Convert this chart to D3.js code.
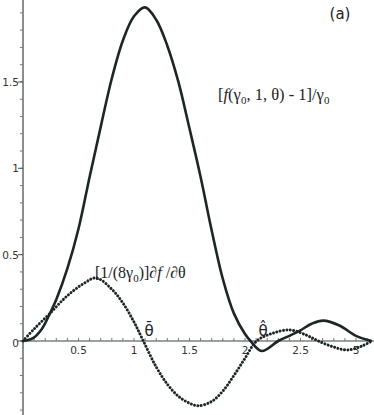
<!DOCTYPE html>
<html><head><meta charset="utf-8">
<script src="https://cdn.jsdelivr.net/npm/d3@7"></script>
<style>body{margin:0;background:#fff}svg{display:block}</style>
</head><body>
<svg id="c" width="374" height="415"></svg>
<script>
// data
const thetaSolid = [0, 0.09, 0.17, 0.243, 0.3, 0.4, 0.5, 0.6, 0.7, 0.8, 0.9, 1.0, 1.1, 1.2, 1.3, 1.4, 1.5, 1.6, 1.7, 1.8, 1.9, 2.0, 2.05, 2.15, 2.3, 2.4, 2.495, 2.6, 2.705, 2.85, 3.0, 3.1416];
const valSolid   = [0, 0.017, 0.07, 0.16, 0.24, 0.42, 0.65, 0.95, 1.24, 1.52, 1.74, 1.88, 1.932, 1.86, 1.71, 1.5, 1.23, 0.95, 0.64, 0.36, 0.16, 0.04, 0, -0.058, 0, 0.03, 0.06, 0.1, 0.118, 0.09, 0.03, 0];
const thetaDot = [0, 0.1, 0.243, 0.39, 0.54, 0.66, 0.8, 0.9, 1.0, 1.084, 1.2, 1.3, 1.4, 1.5, 1.58, 1.7, 1.8, 1.9, 2.0, 2.105, 2.25, 2.405, 2.55, 2.66, 2.8, 2.92, 3.05, 3.1416];
const valDot   = [0, 0.07, 0.16, 0.257, 0.33, 0.365, 0.3, 0.22, 0.11, 0, -0.15, -0.25, -0.32, -0.36, -0.375, -0.35, -0.29, -0.2, -0.1, 0, 0.045, 0.064, 0.035, 0, -0.035, -0.052, -0.03, 0];
const xTickVals = [0.5, 1, 1.5, 2, 2.5, 3];
const xTickLabels = ["0.5", "1", "1.5", "2", "2.5", "3"];
const yTickVals = [0, 0.5, 1, 1.5];
const yTickLabels = ["0", "0.5", "1", "1.5"];

const svg = d3.select("#c");
const x = d3.scaleLinear().domain([0, 1]).range([23, 134]);
const y = d3.scaleLinear().domain([0, 1]).range([341, 168.3]);
const axisColor = "#3a4444";

// y axis
svg.append("line").attr("x1", x(0)).attr("x2", x(0)).attr("y1", 0).attr("y2", 415)
  .attr("stroke", axisColor).attr("stroke-width", 1.2);
const yMinor = d3.range(-4, 20).map(i => i / 10);
svg.selectAll(".ym").data(yMinor).join("line")
  .attr("x1", x(0) - 3).attr("x2", x(0)).attr("y1", d => y(d)).attr("y2", d => y(d))
  .attr("stroke", "#777").attr("stroke-width", 1);
svg.selectAll(".yM").data(yTickVals).join("line")
  .attr("x1", x(0) - 5).attr("x2", x(0)).attr("y1", d => y(d)).attr("y2", d => y(d))
  .attr("stroke", "#555").attr("stroke-width", 1);
svg.selectAll(".yl").data(yTickVals).join("text")
  .attr("x", x(0) - 4).attr("y", (d, i) => y(d) + (i === 0 ? 6 : 4))
  .attr("text-anchor", "end").attr("font-family", "DejaVu Sans").attr("font-size", 10.5)
  .attr("fill", "#333").text((d, i) => yTickLabels[i]);

// x axis
svg.append("line").attr("x1", x(0)).attr("x2", 374).attr("y1", y(0)).attr("y2", y(0))
  .attr("stroke", axisColor).attr("stroke-width", 1.2);
const xMinor = d3.range(1, 32).map(i => i / 10);
svg.selectAll(".xm").data(xMinor).join("line")
  .attr("x1", d => x(d)).attr("x2", d => x(d)).attr("y1", y(0) - 3).attr("y2", y(0))
  .attr("stroke", "#777").attr("stroke-width", 1);
svg.selectAll(".xl").data(xTickVals).join("text")
  .attr("x", d => x(d)).attr("y", y(0) + 13)
  .attr("text-anchor", "middle").attr("font-family", "DejaVu Sans").attr("font-size", 10.5)
  .attr("fill", "#333").text((d, i) => xTickLabels[i]);

// curves
const line = d3.line().x(d => x(d[0])).y(d => y(d[1])).curve(d3.curveCatmullRom.alpha(0.5));
svg.append("path").attr("d", line(thetaSolid.map((t, i) => [t, valSolid[i]])))
  .attr("fill", "none").attr("stroke", "#1d2626").attr("stroke-width", 2.6);
svg.append("path").attr("d", line(thetaDot.map((t, i) => [t, valDot[i]])))
  .attr("fill", "none").attr("stroke", "#1d2626").attr("stroke-width", 3)
  .attr("stroke-linecap", "round").attr("stroke-dasharray", "0.01 3.4");

// labels
const serif = "Liberation Serif";
const t1 = svg.append("text").attr("x", 218).attr("y", 100).attr("font-family", serif)
  .attr("font-size", 16.5).attr("fill", "#222");
t1.append("tspan").text("[");
t1.append("tspan").attr("font-style", "italic").text("f");
t1.append("tspan").text("(γ");
t1.append("tspan").attr("dy", 4).attr("font-size", 11).text("0");
t1.append("tspan").attr("dy", -4).text(", 1, θ) - 1]/γ");
t1.append("tspan").attr("dy", 4).attr("font-size", 11).text("0");

const t2 = svg.append("text").attr("x", 95).attr("y", 278).attr("font-family", serif)
  .attr("font-size", 16).attr("fill", "#222");
t2.append("tspan").text("[1/(8γ");
t2.append("tspan").attr("dy", 4).attr("font-size", 11).text("0");
t2.append("tspan").attr("dy", -4).text(")]∂");
t2.append("tspan").attr("font-style", "italic").text("f");
t2.append("tspan").text(" /∂θ");

svg.append("text").attr("x", 340).attr("y", 19).attr("text-anchor", "middle")
  .attr("font-family", "DejaVu Sans").attr("font-size", 15).attr("fill", "#222").text("(a)");

svg.append("text").attr("x", 149).attr("y", 336).attr("text-anchor", "middle")
  .attr("font-family", "DejaVu Sans").attr("font-size", 15).attr("fill", "#222").text("θ\u0304");
svg.append("text").attr("x", 263).attr("y", 336).attr("text-anchor", "middle")
  .attr("font-family", "DejaVu Sans").attr("font-size", 15).attr("fill", "#222").text("θ\u0302");
</script>
</body></html>
